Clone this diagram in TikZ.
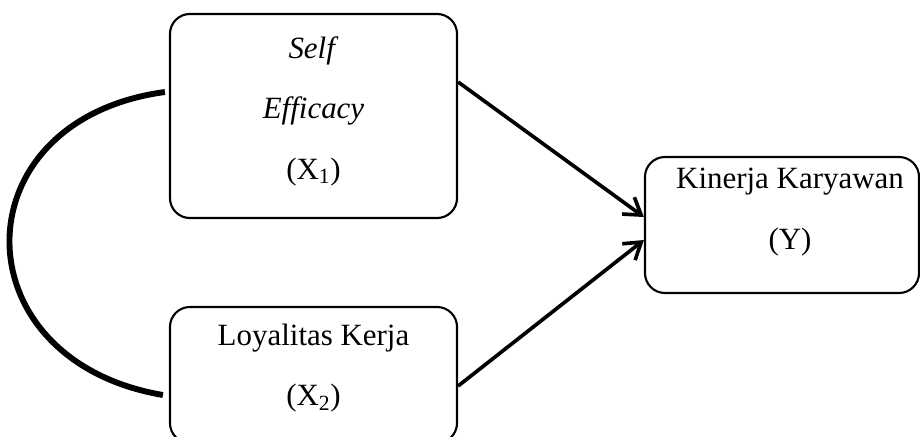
\documentclass[tikz,border=0pt]{standalone}
\usepackage{fontspec}
\setmainfont{Liberation Serif}
\usetikzlibrary{arrows.meta}
\tikzset{
  varbox/.style={draw, line width=1.5pt, rounded corners=0.5cm},
  vartext/.style={align=center, font=\fontsize{22}{43}\selectfont},
  path arrow/.style={line width=2.6pt,
    -{Straight Barb[length=0.4cm,width=0.52cm,line width=2.6pt]}},
}
\begin{document}
\begin{tikzpicture}[x=0.025cm, y=-0.025cm]
  \useasboundingbox (0,0) rectangle (920,436);
  \node[varbox, minimum width=7.175cm, minimum height=5.1cm] (x1) at (313.5,116) {};
  \node[varbox, minimum width=7.175cm, minimum height=3.4cm] (x2) at (313.5,375) {};
  \node[varbox, minimum width=6.85cm, minimum height=3.4cm] (y) at (782,225) {};
  \node[vartext] (x1 text) at ([yshift=0.12cm]x1.center)
    {\textit{Self}\\\textit{Efficacy}\\(X\textsubscript{1})};
  \node[vartext] (x2 text) at ([yshift=0.17cm]x2.center)
    {Loyalitas Kerja\\(X\textsubscript{2})};
  \node[vartext] (y text) at ([xshift=0.2cm,yshift=0.32cm]y.center)
    {Kinerja Karyawan\\(Y)};
  \begin{scope}
    \draw[path arrow] ([yshift=0.85cm]x1.east) -- ([yshift=0.2cm]y.west);
    \draw[path arrow] ([yshift=-0.275cm]x2.east) -- ([yshift=-0.375cm]y.west);
    \draw[line width=4.2pt] ([xshift=-0.1cm,yshift=0.6cm]x1.west)
      .. controls (-42,120) and (-42,360) .. ([xshift=-0.15cm,yshift=-0.5cm]x2.west);
  \end{scope}
\end{tikzpicture}
\end{document}
